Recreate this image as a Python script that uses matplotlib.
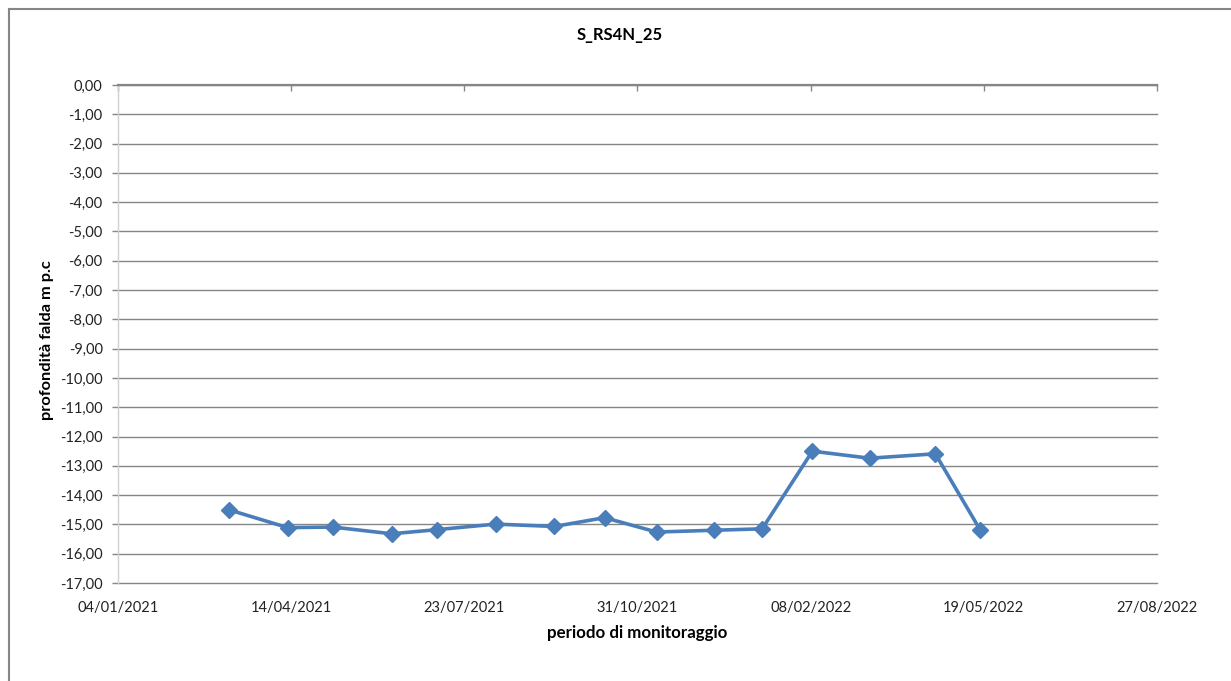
import matplotlib
matplotlib.use("Agg")
import matplotlib.pyplot as plt
import matplotlib.dates as mdates
from matplotlib.lines import Line2D
from matplotlib.ticker import FixedLocator, FuncFormatter
import pandas as pd

plt.rcParams['font.family'] = ['Lato', 'DejaVu Sans']

# ---- data ----
dates = ["2021-03-09", "2021-04-12", "2021-05-08", "2021-06-11", "2021-07-07",
         "2021-08-10", "2021-09-13", "2021-10-12", "2021-11-11", "2021-12-14",
         "2022-01-11", "2022-02-09", "2022-03-14", "2022-04-21", "2022-05-17"]
depth = [-14.50, -15.11, -15.09, -15.32, -15.18,
         -14.99, -15.07, -14.77, -15.26, -15.20,
         -15.15, -12.50, -12.74, -12.59, -15.20]
x_ticks = ["2021-01-04", "2021-04-14", "2021-07-23", "2021-10-31",
           "2022-02-08", "2022-05-19", "2022-08-27"]
y_ticks = [0, -1, -2, -3, -4, -5, -6, -7, -8, -9, -10, -11, -12, -13, -14, -15, -16, -17]
title = "S_RS4N_25"
xlabel = "periodo di monitoraggio"
ylabel = "profondità falda m p.c"

W, H = 1231, 681
fig = plt.figure(figsize=(W / 100, H / 100), dpi=100)
fig.patch.set_facecolor("white")

L, R, T, B = 118, 1157, 85, 583
ax = fig.add_axes([L / W, 1 - B / H, (R - L) / W, (B - T) / H])

xd = mdates.date2num(pd.to_datetime(dates))
xt = mdates.date2num(pd.to_datetime(x_ticks))

ax.plot(xd, depth, color="#4A7EBB", lw=2.6, marker="D", markersize=8,
        markerfacecolor="#4A7EBB", markeredgecolor="#4A7EBB", zorder=5, clip_on=False)

ax.set_xlim(xt[0], xt[-1])
ax.set_ylim(min(y_ticks), max(y_ticks))

ax.xaxis.set_major_locator(FixedLocator(xt))
ax.xaxis.set_major_formatter(FuncFormatter(lambda v, p: mdates.num2date(v).strftime("%d/%m/%Y")))
ax.yaxis.set_major_locator(FixedLocator(y_ticks))
ax.yaxis.set_major_formatter(FuncFormatter(lambda v, p: f"{v:.2f}".replace(".", ",").replace("-0,00", "0,00")))

grid_c = "#868686"
ax.grid(axis="y", color=grid_c, lw=1.0, clip_on=False)
ax.set_axisbelow(True)

for s in ["bottom", "right"]:
    ax.spines[s].set_visible(False)
ax.spines["top"].set_color(grid_c)
ax.spines["top"].set_linewidth(1.6)
ax.spines["left"].set_color("#D0D0D0")
ax.spines["left"].set_linewidth(1.0)

ax.tick_params(axis="x", top=True, bottom=False, labeltop=False, labelbottom=True,
               direction="in", length=4, color=grid_c, width=1, pad=13,
               labelsize=10.5, labelcolor="#222222")
ax.tick_params(axis="y", direction="out", length=4, color=grid_c, width=1, pad=7,
               labelsize=10.5, labelcolor="#222222")

fig.text(620 / W, 1 - 35 / H, title, ha="center", va="center", fontsize=12, fontweight="bold")
fig.text(637 / W, 1 - 633 / H, xlabel, ha="center", va="center", fontsize=12.2, fontweight="bold")
fig.text(47 / W, 1 - 340 / H, ylabel, ha="center", va="center", fontsize=11.8,
         fontweight="bold", rotation=90)

# outer chart frame (top and left visible)
fig.add_artist(Line2D([8.5 / W, 8.5 / W], [0, 1 - 9 / H], transform=fig.transFigure,
                      color=grid_c, lw=1.5))
fig.add_artist(Line2D([8.5 / W, 1], [1 - 9 / H, 1 - 9 / H], transform=fig.transFigure,
                      color=grid_c, lw=1.5))

fig.savefig("out.png", dpi=100, facecolor="white")
